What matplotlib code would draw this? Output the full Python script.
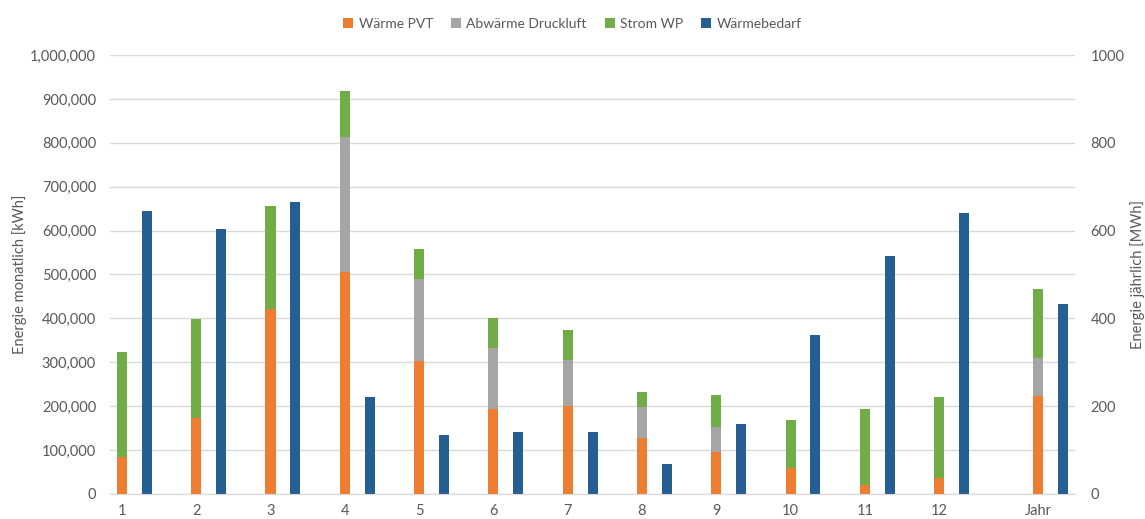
# -*- coding: utf-8 -*-

'''
Energiebilanz monatlich / jaehrlich
'''

import matplotlib
matplotlib.use('Agg')
import matplotlib.pyplot as plt
from matplotlib.ticker import FuncFormatter, MultipleLocator
import numpy as np

plt.rcParams['font.family'] = ['Lato', 'DejaVu Sans']

MONATE = ['1', '2', '3', '4', '5', '6', '7', '8', '9', '10', '11', '12']
LABEL_JAHR = 'Jahr'

# Monatswerte in kWh
WAERME_PVT = [84000, 173000, 421000, 506000, 303000, 194000, 201000,
              128000, 96000, 59000, 20000, 37000]
ABWAERME_DRUCKLUFT = [0, 0, 0, 307000, 187000, 139000, 104000,
                      71000, 57000, 0, 0, 0]
STROM_WP = [239000, 226000, 235000, 105000, 68000, 68000, 68000,
            34000, 72000, 109000, 174000, 184000]
WAERMEBEDARF = [645000, 604000, 665000, 221000, 134000, 141000, 141000,
                68000, 159000, 362000, 542000, 640000]

# Jahreswerte in MWh
JAHR_PVT = 224
JAHR_DRUCKLUFT = 86
JAHR_STROM = 157
JAHR_BEDARF = 432

COL_PVT = '#ED7D31'
COL_DRUCK = '#A5A5A5'
COL_STROM = '#70AD47'
COL_BEDARF = '#255E91'
COL_TEXT = '#595959'
COL_GRID = '#D9D9D9'

BREITE = 0.135
VERSATZ = 0.336
POS_JAHR = 12.33


def plota():
    '''Erstellt das Diagramm'''
    fig = plt.figure(figsize=(11.45, 5.19), dpi=100)
    ax1 = fig.add_axes([0.0961, 0.0482, 0.8428, 0.8458])
    ax2 = ax1.twinx()

    x = np.arange(len(MONATE))
    pvt = np.array(WAERME_PVT)
    druck = np.array(ABWAERME_DRUCKLUFT)
    strom = np.array(STROM_WP)

    ax1.bar(x, pvt, BREITE, color=COL_PVT, label='Wärme PVT', zorder=3)
    ax1.bar(x, druck, BREITE, bottom=pvt, color=COL_DRUCK,
            label='Abwärme Druckluft', zorder=3)
    ax1.bar(x, strom, BREITE, bottom=pvt + druck, color=COL_STROM,
            label='Strom WP', zorder=3)
    ax1.bar(x + VERSATZ, WAERMEBEDARF, BREITE, color=COL_BEDARF,
            label='Wärmebedarf', zorder=3)

    ax2.bar(POS_JAHR, JAHR_PVT, BREITE, color=COL_PVT, zorder=3)
    ax2.bar(POS_JAHR, JAHR_DRUCKLUFT, BREITE, bottom=JAHR_PVT,
            color=COL_DRUCK, zorder=3)
    ax2.bar(POS_JAHR, JAHR_STROM, BREITE, bottom=JAHR_PVT + JAHR_DRUCKLUFT,
            color=COL_STROM, zorder=3)
    ax2.bar(POS_JAHR + VERSATZ, JAHR_BEDARF, BREITE, color=COL_BEDARF,
            zorder=3)

    ax1.set_xlim(-0.16, 12.83)
    ax1.set_ylim(0, 1000000)
    ax2.set_ylim(0, 1000)
    ax1.yaxis.set_major_locator(MultipleLocator(100000))
    ax2.yaxis.set_major_locator(MultipleLocator(200))
    ax1.yaxis.set_major_formatter(
        FuncFormatter(lambda v, p: '{:,.0f}'.format(v)))

    ax1.set_xticks(list(x) + [POS_JAHR])
    ax1.set_xticklabels(MONATE + [LABEL_JAHR])

    ax1.grid(axis='y', color=COL_GRID, lw=1, zorder=0)
    ax1.set_axisbelow(True)
    for ax in (ax1, ax2):
        for lado in ('top', 'left', 'right'):
            ax.spines[lado].set_visible(False)
        ax.spines['bottom'].set_color(COL_GRID)
        ax.tick_params(length=0, colors=COL_TEXT, labelsize=10.5)
    ax1.tick_params(axis='y', pad=10)
    ax2.tick_params(axis='y', pad=11)
    ax1.tick_params(axis='x', pad=7)

    ax1.set_ylabel('Energie monatlich [kWh]', color=COL_TEXT, fontsize=10.5,
                   labelpad=2)
    ax2.set_ylabel('Energie jährlich [MWh]', color=COL_TEXT, fontsize=10.5,
                   labelpad=4)

    fig.legend(loc='upper center', bbox_to_anchor=(0.5, 0.99), ncol=4,
               frameon=False, fontsize=10, labelcolor=COL_TEXT,
               handlelength=0.7, handleheight=0.7, handletextpad=0.4,
               columnspacing=1.3)

    fig.savefig('out.png', dpi=100)


if __name__ == '__main__':
    plota()
